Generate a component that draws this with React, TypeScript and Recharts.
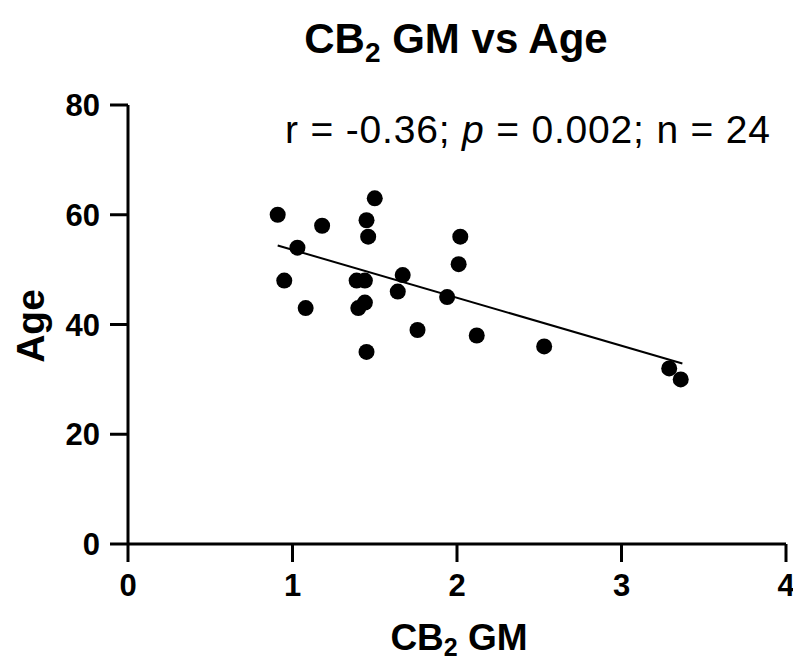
import React from "react";
import { ScatterChart, Scatter, XAxis, YAxis, ReferenceLine } from "recharts";

const gmValues = [0.91, 0.95, 1.03, 1.08, 1.18, 1.39, 1.40, 1.44, 1.44, 1.45, 1.46, 1.45, 1.50, 1.64, 1.67, 1.76, 1.94, 2.01, 2.02, 2.12, 2.53, 3.29, 3.36];
const ageValues = [60, 48, 54, 43, 58, 48, 43, 48, 44, 59, 56, 35, 63, 46, 49, 39, 45, 51, 56, 38, 36, 32, 30];
const fitX = [0.91, 3.37];
const fitY = [54.4, 32.9];
const xTicks = [0, 1, 2, 3, 4];
const yTicks = [0, 20, 40, 60, 80];

const points = gmValues.map((g, i) => ({ gm: g, age: ageValues[i] }));

const FONT = "'Liberation Sans', Arial, Helvetica, sans-serif";

const Dot = (props: any) => {
  const { cx, cy } = props;
  if (cx == null || cy == null) return null;
  return <circle cx={cx} cy={cy} r={8} fill="#000" />;
};

export default function App() {
  const tickStyle = { fill: "#000", fontSize: 31, fontWeight: "bold", fontFamily: FONT };
  return (
    <div style={{ position: "absolute", left: 0, top: 0, width: 793, height: 664, background: "#fff" }}>
      <ScatterChart width={793} height={664} margin={{ top: 105, right: 7, left: 0, bottom: 0 }}>
        <XAxis
          type="number"
          dataKey="gm"
          domain={[0, 4]}
          ticks={xTicks}
          interval={0}
          height={120}
          tick={tickStyle}
          tickSize={18}
          tickMargin={12}
          axisLine={{ stroke: "#000", strokeWidth: 3 }}
          tickLine={{ stroke: "#000", strokeWidth: 3 }}
        />
        <YAxis
          type="number"
          dataKey="age"
          domain={[0, 80]}
          ticks={yTicks}
          interval={0}
          width={128}
          tick={tickStyle}
          tickSize={18}
          tickMargin={10}
          axisLine={{ stroke: "#000", strokeWidth: 3 }}
          tickLine={{ stroke: "#000", strokeWidth: 3 }}
        />
        <ReferenceLine
          segment={[{ x: fitX[0], y: fitY[0] }, { x: fitX[1], y: fitY[1] }]}
          stroke="#000"
          strokeWidth={2}
        />
        <Scatter data={points} fill="#000" shape={Dot} isAnimationActive={false} />
      </ScatterChart>
      <svg
        width={793}
        height={664}
        style={{ position: "absolute", left: 0, top: 0, pointerEvents: "none" }}
      >
        <text x={456} y={53} textAnchor="middle" fontFamily={FONT} fontWeight="bold" fontSize={42} fill="#000">
          CB<tspan fontSize={28} dy={9}>2</tspan><tspan dy={-9}> GM vs Age</tspan>
        </text>
        <text x={459} y={650} textAnchor="middle" fontFamily={FONT} fontWeight="bold" fontSize={37} fill="#000">
          CB<tspan fontSize={25} dy={6}>2</tspan><tspan dy={-6}> GM</tspan>
        </text>
        <text
          x={44}
          y={326}
          textAnchor="middle"
          transform="rotate(-90, 44, 326)"
          fontFamily={FONT}
          fontWeight="bold"
          fontSize={39}
          fill="#000"
        >
          Age
        </text>
        <text
          x={285}
          y={143}
          fontFamily={FONT}
          fontSize={39}
          fill="#000"
          textLength={485}
          lengthAdjust="spacing"
        >
          r = -0.36; <tspan fontStyle="italic">p</tspan> = 0.002; n = 24
        </text>
      </svg>
    </div>
  );
}
